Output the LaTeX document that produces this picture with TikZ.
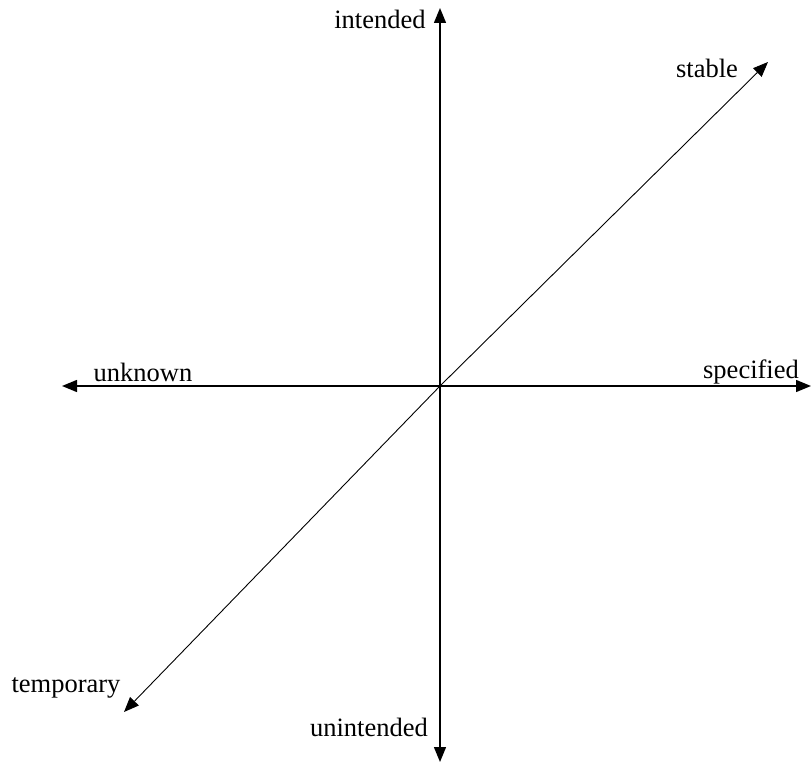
\documentclass[tikz,border=0pt]{standalone}
\usepackage{fontspec}
\setmainfont{Liberation Serif}
\usetikzlibrary{arrows.meta}

\begin{document}
\begin{tikzpicture}[x=1pt, y=-1pt, >={Triangle[length=15pt,width=12pt]},
    axis/.style={->, line width=1.4pt},
    diag/.style={->, line width=0.9pt},
    lbl/.style={font=\fontsize{26.5}{30}\selectfont, inner sep=0pt}]

    \useasboundingbox (0,0) rectangle (812,765);

    % origin and arrow tips
    \coordinate (O) at (440,386);
    \coordinate (up) at (440,8);
    \coordinate (down) at (440,762);
    \coordinate (left) at (62,386);
    \coordinate (right) at (811,386);
    \coordinate (ne) at (768,62);
    \coordinate (sw) at (124,712);

    % axes
    \draw[axis] (O) -- (up);
    \draw[axis] (O) -- (down);
    \draw[axis] (O) -- (left);
    \draw[axis] (O) -- (right);

    % diagonal
    \draw[diag] (O) -- (ne);
    \draw[diag] (O) -- (sw);

    % labels
    \node[lbl] (intended) at (380,19) {intended};
    \node[lbl] (unintended) at (369,727) {unintended};
    \node[lbl] (unknown) at (143,372) {unknown};
    \node[lbl] (specified) at (751,372) {specified};
    \node[lbl] (stable) at (707,68) {stable};
    \node[lbl] (temporary) at (66,688) {temporary};

\end{tikzpicture}
\end{document}
